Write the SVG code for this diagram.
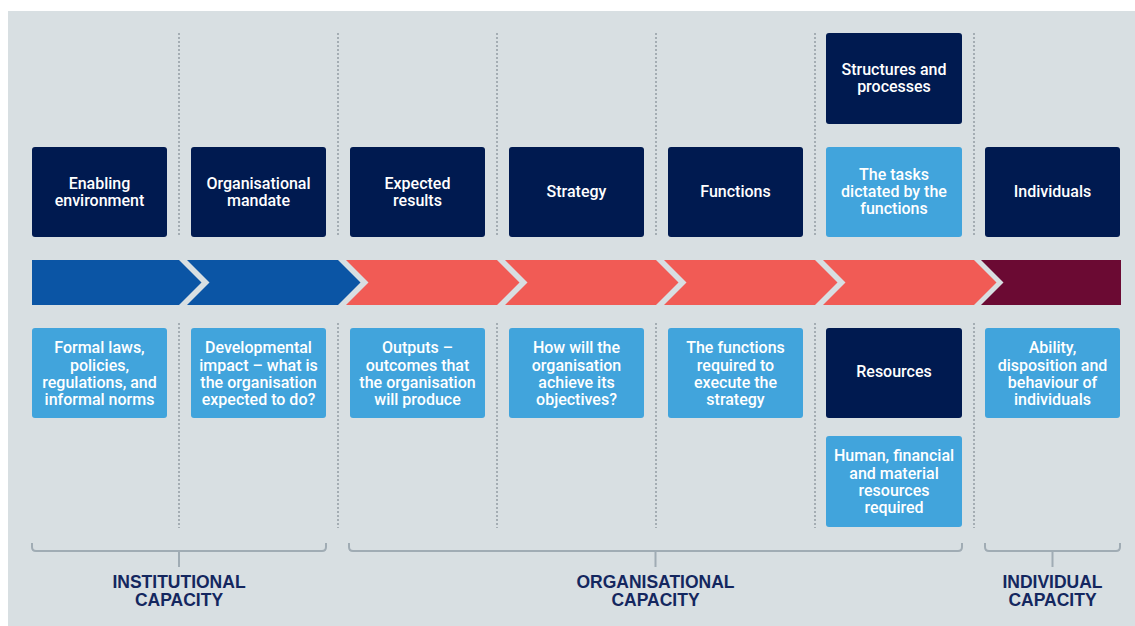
<svg xmlns="http://www.w3.org/2000/svg" width="1135" height="626" viewBox="0 0 1135 626">
<style>
.bg{fill:#d8dfe2}
.dk{fill:#001a50}
.lt{fill:#41a4dc}
.bt{font-family:Roboto,"Liberation Sans",sans-serif;font-size:16px;font-weight:500;fill:#ffffff;text-anchor:middle}
.lbl{font-family:"Liberation Sans",Arial,sans-serif;font-size:17.5px;font-weight:700;fill:#14275f;text-anchor:middle}
.dot{stroke:#a4adb3;stroke-width:2;stroke-dasharray:2 2;fill:none}
.br{stroke:#a0acb4;stroke-width:2;fill:none}
.blue{fill:#0b55a5}
.red{fill:#f15b55}
.mar{fill:#6b0a33}
</style>
<rect class="bg" x="8" y="11" width="1127" height="615"/>
<g id="dividers">
<path class="dot" d="M179 33V237M179 323V528M338 33V237M338 323V528M497 33V237M497 323V528M656 33V237M656 323V528M815 33V237M815 323V528M974 33V237M974 323V528"/>
</g>
<g id="arrow">
<polygon class="blue" points="32,260 179,260 201.5,282.5 179,305 32,305"/>
<polygon class="blue" points="187,260 338,260 360.5,282.5 338,305 187,305 209.5,282.5"/>
<polygon class="red" points="346,260 497,260 519.5,282.5 497,305 346,305 368.5,282.5"/>
<polygon class="red" points="505,260 656,260 678.5,282.5 656,305 505,305 527.5,282.5"/>
<polygon class="red" points="664,260 815,260 837.5,282.5 815,305 664,305 686.5,282.5"/>
<polygon class="red" points="823,260 974,260 996.5,282.5 974,305 823,305 845.5,282.5"/>
<polygon class="mar" points="981,260 1121,260 1121,305 981,305 1003.5,282.5"/>
</g>
<g id="n-enabling"><rect class="dk" x="32" y="147" width="135" height="90" rx="3"/><text class="bt" x="99.5" y="188.5">Enabling</text><text class="bt" x="99.5" y="205.5">environment</text></g>
<g id="n-mandate"><rect class="dk" x="191" y="147" width="135" height="90" rx="3"/><text class="bt" x="258.5" y="188.5">Organisational</text><text class="bt" x="258.5" y="205.5">mandate</text></g>
<g id="n-expected"><rect class="dk" x="350" y="147" width="135" height="90" rx="3"/><text class="bt" x="417.5" y="188.5">Expected</text><text class="bt" x="417.5" y="205.5">results</text></g>
<g id="n-strategy"><rect class="dk" x="509" y="147" width="135" height="90" rx="3"/><text class="bt" x="576.5" y="197">Strategy</text></g>
<g id="n-functions"><rect class="dk" x="668" y="147" width="135" height="90" rx="3"/><text class="bt" x="735.5" y="197">Functions</text></g>
<g id="n-structures"><rect class="dk" x="826" y="33" width="136" height="91" rx="3"/><text class="bt" x="894" y="75">Structures and</text><text class="bt" x="894" y="92">processes</text></g>
<g id="n-tasks"><rect class="lt" x="826" y="147" width="136" height="90" rx="3"/><text class="bt" x="894" y="179.5">The tasks</text><text class="bt" x="894" y="196.5">dictated by the</text><text class="bt" x="894" y="213.5">functions</text></g>
<g id="n-individuals"><rect class="dk" x="985" y="147" width="135" height="90" rx="3"/><text class="bt" x="1052.5" y="197">Individuals</text></g>
<g id="n-laws"><rect class="lt" x="32" y="328" width="135" height="90" rx="3"/><text class="bt" x="99.5" y="353">Formal laws,</text><text class="bt" x="99.5" y="370.5">policies,</text><text class="bt" x="99.5" y="388">regulations, and</text><text class="bt" x="99.5" y="405">informal norms</text></g>
<g id="n-impact"><rect class="lt" x="191" y="328" width="135" height="90" rx="3"/><text class="bt" x="258.5" y="353">Developmental</text><text class="bt" x="258.5" y="370.5">impact – what is</text><text class="bt" x="258.5" y="388">the organisation</text><text class="bt" x="258.5" y="405">expected to do?</text></g>
<g id="n-outputs"><rect class="lt" x="350" y="328" width="135" height="90" rx="3"/><text class="bt" x="417.5" y="353">Outputs –</text><text class="bt" x="417.5" y="370.5">outcomes that</text><text class="bt" x="417.5" y="388">the organisation</text><text class="bt" x="417.5" y="405">will produce</text></g>
<g id="n-how"><rect class="lt" x="509" y="328" width="135" height="90" rx="3"/><text class="bt" x="576.5" y="353">How will the</text><text class="bt" x="576.5" y="370.5">organisation</text><text class="bt" x="576.5" y="388">achieve its</text><text class="bt" x="576.5" y="405">objectives?</text></g>
<g id="n-required"><rect class="lt" x="668" y="328" width="135" height="90" rx="3"/><text class="bt" x="735.5" y="353">The functions</text><text class="bt" x="735.5" y="370.5">required to</text><text class="bt" x="735.5" y="388">execute the</text><text class="bt" x="735.5" y="405">strategy</text></g>
<g id="n-resources"><rect class="dk" x="826" y="328" width="136" height="90" rx="3"/><text class="bt" x="894" y="377">Resources</text></g>
<g id="n-human"><rect class="lt" x="826" y="436" width="136" height="91" rx="3"/><text class="bt" x="894" y="461">Human, financial</text><text class="bt" x="894" y="478.5">and material</text><text class="bt" x="894" y="496">resources</text><text class="bt" x="894" y="513">required</text></g>
<g id="n-ability"><rect class="lt" x="985" y="328" width="135" height="90" rx="3"/><text class="bt" x="1052.5" y="353">Ability,</text><text class="bt" x="1052.5" y="370.5">disposition and</text><text class="bt" x="1052.5" y="388">behaviour of</text><text class="bt" x="1052.5" y="405">individuals</text></g>
<g id="brackets">
<path class="br" d="M32 543V547Q32 551 36 551H322Q326 551 326 547V543M179 551V567"/>
<path class="br" d="M349 543V547Q349 551 353 551H958Q962 551 962 547V543M655.5 551V567"/>
<path class="br" d="M985 543V547Q985 551 989 551H1116Q1120 551 1120 547V543M1052.5 551V567"/>
</g>
<g id="labels">
<text class="lbl" x="179" y="588">INSTITUTIONAL</text><text class="lbl" x="179" y="606">CAPACITY</text>
<text class="lbl" x="655.5" y="588">ORGANISATIONAL</text><text class="lbl" x="655.5" y="606">CAPACITY</text>
<text class="lbl" x="1052.5" y="588">INDIVIDUAL</text><text class="lbl" x="1052.5" y="606">CAPACITY</text>
</g>
</svg>
